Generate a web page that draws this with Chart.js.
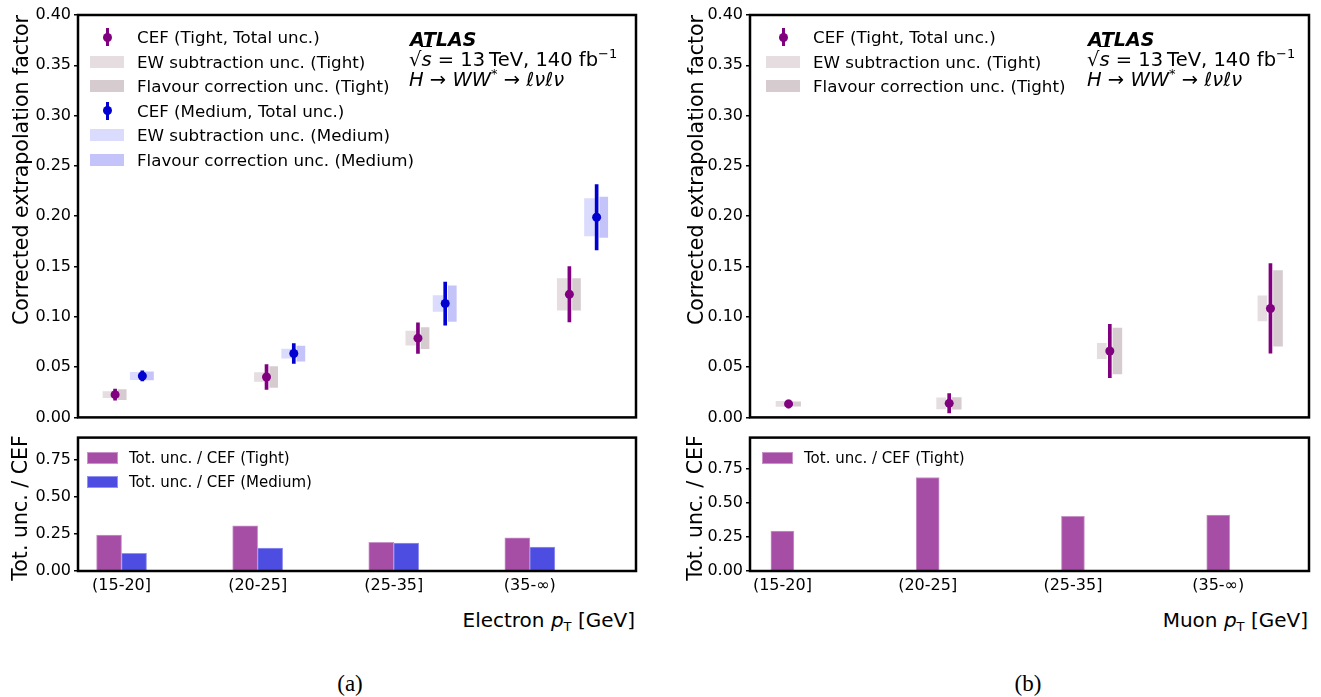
<!doctype html>
<html>
<head>
  <meta charset="utf-8">
  <title>CEF electron / muon</title>
  <script src="https://cdn.jsdelivr.net/npm/chart.js@4.4.1/dist/chart.umd.min.js"></script>
  <style>
    body { margin: 0; background: #fff; font-family: "DejaVu Sans", sans-serif; color: #000; }
    #page { position: relative; width: 1321px; height: 697px; overflow: hidden; }
    canvas { position: absolute; }
    .t { position: absolute; white-space: nowrap; line-height: 1; }
    .rot { transform: translate(-50%, -50%) rotate(-90deg); font-size: 20.5px; }
    .xt { transform: translate(-100%, -50%); font-size: 20px; }
    .cap { transform: translate(-50%, -50%); font-family: "Liberation Serif", serif; font-size: 23px; }
    .row { position: absolute; white-space: nowrap; line-height: 20px; height: 20px; }
    .big { font-size: 16.7px; }
    .small { font-size: 15px; }
    .sw { position: absolute; top: 4px; height: 12px; box-sizing: border-box; }
    .mk { position: absolute; top: 0; width: 34px; height: 20px; }
    .mk .ln { position: absolute; left: 15.5px; top: 1px; width: 3px; height: 18px; }
    .mk .dot { position: absolute; left: 12.5px; top: 5.5px; width: 9px; height: 9px; border-radius: 50%; }
    .atl { font-size: 19.5px; }
    .atl b { font-style: italic; font-family: "DejaVu Sans", sans-serif; font-size: 19px; }
    .ov { border-top: 1px solid #000; font-style: italic; padding-top: 1px; }
    sup { font-size: 13px; vertical-align: 8px; line-height: 0; }
    sub { font-size: 13px; vertical-align: -4px; line-height: 0; }
  </style>
</head>
<body>
<div id="page">
  <canvas id="elTop" width="650" height="430" style="left:0;top:0"></canvas>
  <canvas id="elBot" width="650" height="175" style="left:0;top:425px"></canvas>
  <canvas id="muTop" width="649" height="430" style="left:672px;top:0"></canvas>
  <canvas id="muBot" width="649" height="175" style="left:672px;top:425px"></canvas>

  <div class="t rot" style="left:21px;top:170px">Corrected extrapolation factor</div>
  <div class="t rot" style="left:20px;top:508px">Tot. unc. / CEF</div>
  <div class="t rot" style="left:696px;top:170px">Corrected extrapolation factor</div>
  <div class="t rot" style="left:695px;top:508px">Tot. unc. / CEF</div>

  <div class="t xt" style="left:635px;top:620px">Electron <i>p</i><sub>T</sub> [GeV]</div>
  <div class="t xt" style="left:1308px;top:620px">Muon <i>p</i><sub>T</sub> [GeV]</div>

  <div class="t cap" style="left:350px;top:683px">(a)</div>
  <div class="t cap" style="left:1028px;top:683px">(b)</div>

  <div class="t atl" style="left:410px;top:30px"><b>ATLAS</b></div>
  <div class="t atl" style="left:409px;top:50px">√<span class="ov">s</span> = 13&#8201;TeV, 140 fb<sup>−1</sup></div>
  <div class="t atl" style="left:409px;top:70px"><i>H</i> → <i>WW</i><sup>*</sup> → <i>ℓνℓν</i></div>
  <div class="t atl" style="left:1088px;top:30px"><b>ATLAS</b></div>
  <div class="t atl" style="left:1087px;top:50px">√<span class="ov">s</span> = 13&#8201;TeV, 140 fb<sup>−1</sup></div>
  <div class="t atl" style="left:1087px;top:70px"><i>H</i> → <i>WW</i><sup>*</sup> → <i>ℓνℓν</i></div>
</div>

<script>
  var bins = ['(15-20]', '(20-25]', '(25-35]', '(35-\u221e)'];

  // electrons, Tight selection
  var elTightCef  = [0.0226, 0.0402, 0.0788, 0.1223];
  var elTightTot  = [0.0055, 0.0123, 0.0153, 0.0275];
  var elTightEw   = [0.0030, 0.0044, 0.0069, 0.0157];
  var elTightFlav = [0.0050, 0.0103, 0.0106, 0.0157];
  var elTightRatio = [0.242, 0.304, 0.193, 0.224];

  // electrons, Medium selection
  var elMedCef  = [0.0412, 0.0635, 0.1132, 0.1990];
  var elMedTot  = [0.0050, 0.0099, 0.0214, 0.0325];
  var elMedEw   = [0.0036, 0.0045, 0.0078, 0.0186];
  var elMedFlav = [0.0040, 0.0075, 0.0177, 0.0200];
  var elMedRatio = [0.120, 0.154, 0.188, 0.161];

  // muons, Tight selection
  var muTightCef  = [0.0134, 0.0140, 0.0660, 0.1083];
  var muTightTot  = [0.0039, 0.0096, 0.0266, 0.0445];
  var muTightEw   = [0.0025, 0.0055, 0.0077, 0.0125];
  var muTightFlav = [0.0022, 0.0058, 0.0229, 0.0376];
  var muTightRatio = [0.293, 0.687, 0.401, 0.410];

  var purple = '#800080', blue = '#0000d0';
  var ewTight = '#e5dde0', flTight = '#d6ccd0';
  var ewMed = '#dbdbfd', flMed = '#c4c4fb';
  var barTight = '#a64ea6', barTightEdge = '#c993c9';
  var barMed = '#4d4de2', barMedEdge = '#9393ee';

  var tickFont = { family: 'DejaVu Sans', size: 16 };

  var frame = {
    id: 'frame',
    afterDraw: function (chart) {
      var a = chart.chartArea, c = chart.ctx;
      c.save();
      c.strokeStyle = '#000';
      c.lineWidth = 2.5;
      c.strokeRect(a.left, a.top, a.right - a.left, a.bottom - a.top);
      c.restore();
    }
  };

  function yAxis(max, step) {
    return {
      min: 0, max: max,
      afterFit: function (s) { s.width = 78; },
      border: { display: false },
      grid: { drawOnChartArea: false, drawTicks: true, tickLength: 4, color: '#000', lineWidth: 1.5 },
      ticks: {
        stepSize: step, includeBounds: false, color: '#000', font: tickFont, padding: 3,
        callback: function (v) { return v.toFixed(2); }
      }
    };
  }

  function xTop(min, max) {
    return { type: 'linear', min: min, max: max, offset: false, display: false, grid: { offset: false } };
  }

  function xBottom(min, max) {
    return {
      type: 'linear', min: min, max: max, offset: false,
      afterFit: function (s) { s.height = 29; },
      border: { display: false },
      grid: { display: false, drawTicks: false, offset: false },
      ticks: {
        stepSize: 1, includeBounds: false, autoSkip: false, maxRotation: 0,
        color: '#000', font: tickFont, padding: 5,
        callback: function (v) { return bins[v]; }
      }
    };
  }

  function pointSet(vals, off, col) {
    return {
      type: 'scatter',
      data: vals.map(function (v, i) { return { x: i + off, y: v }; }),
      backgroundColor: col, borderWidth: 0, pointRadius: 4.5, order: 0
    };
  }

  function rangeSet(vals, errs, off, col, w, ord) {
    return {
      type: 'bar',
      data: vals.map(function (v, i) { return { x: i + off, y: [v - errs[i], v + errs[i]] }; }),
      backgroundColor: col, barThickness: w, grouped: false, order: ord
    };
  }

  function ratioSet(vals, col, edge, w) {
    return {
      type: 'bar',
      data: vals.map(function (v, i) { return { x: i, y: v }; }),
      backgroundColor: col, borderColor: edge, borderWidth: 1, barThickness: w
    };
  }

  function makeChart(id, datasets, xs, ys, pad) {
    return new Chart(document.getElementById(id), {
      type: 'bar',
      data: { datasets: datasets },
      options: {
        responsive: false,
        animation: false,
        events: [],
        layout: { padding: pad },
        scales: { x: xs, y: ys },
        plugins: { legend: { display: false }, tooltip: { enabled: false } }
      },
      plugins: [frame]
    });
  }

  var dt = 0.09, db = 0.047;

  makeChart('elTop', [
    pointSet(elTightCef, -dt, purple),
    pointSet(elMedCef, dt, blue),
    rangeSet(elTightCef, elTightTot, -dt, purple, 3, 1),
    rangeSet(elMedCef, elMedTot, dt, blue, 3, 1),
    rangeSet(elTightCef, elTightEw, -dt - db, ewTight, 10, 2),
    rangeSet(elTightCef, elTightFlav, -dt + db, flTight, 8, 2),
    rangeSet(elMedCef, elMedEw, dt - db, ewMed, 10, 2),
    rangeSet(elMedCef, elMedFlav, dt + db, flMed, 8, 2)
  ], xTop(-0.335, 3.35), yAxis(0.4, 0.05), { top: 15, right: 14, bottom: 8, left: 0 });

  makeChart('elBot', [
    ratioSet(elTightRatio, barTight, barTightEdge, 25),
    ratioSet(elMedRatio, barMed, barMedEdge, 25)
  ], xBottom(-0.32, 3.78), yAxis(0.9, 0.25), { top: 6, right: 14, bottom: 0, left: 0 });

  makeChart('muTop', [
    pointSet(muTightCef, 0, purple),
    rangeSet(muTightCef, muTightTot, 0, purple, 3, 1),
    rangeSet(muTightCef, muTightEw, -0.05, ewTight, 9, 2),
    rangeSet(muTightCef, muTightFlav, 0.047, flTight, 9, 2)
  ], xTop(-0.24, 3.24), yAxis(0.4, 0.05), { top: 15, right: 12, bottom: 8, left: 0 });

  makeChart('muBot', [
    ratioSet(muTightRatio, barTight, barTightEdge, 23)
  ], xBottom(-0.223, 3.625), yAxis(0.98, 0.25), { top: 6, right: 12, bottom: 0, left: 0 });

  // legends
  var page = document.getElementById('page');
  function legend(x, y, dy, cls, items) {
    items.forEach(function (it, k) {
      var row = document.createElement('div');
      row.className = 'row ' + cls;
      row.style.left = x + 'px';
      row.style.top = (y + k * dy - 10) + 'px';
      var html;
      if (it.pt) {
        html = '<span class="mk"><span class="ln" style="background:' + it.pt + '"></span>' +
               '<span class="dot" style="background:' + it.pt + '"></span></span>';
      } else {
        html = '<span class="sw" style="left:0;width:' + it.w + 'px;background:' + it.c +
               (it.e ? ';border:1px solid ' + it.e : '') + '"></span>';
      }
      row.innerHTML = html + '<span style="position:absolute;left:' + it.tx + 'px;top:0">' + it.text + '</span>';
      page.appendChild(row);
    });
  }

  legend(90, 37, 24.6, 'big', [
    { pt: purple, text: 'CEF (Tight, Total unc.)', tx: 47 },
    { c: ewTight, w: 34, text: 'EW subtraction unc. (Tight)', tx: 47 },
    { c: flTight, w: 34, text: 'Flavour correction unc. (Tight)', tx: 47 },
    { pt: blue, text: 'CEF (Medium, Total unc.)', tx: 47 },
    { c: ewMed, w: 34, text: 'EW subtraction unc. (Medium)', tx: 47 },
    { c: flMed, w: 34, text: 'Flavour correction unc. (Medium)', tx: 47 }
  ]);
  legend(766, 37, 24.6, 'big', [
    { pt: purple, text: 'CEF (Tight, Total unc.)', tx: 47 },
    { c: ewTight, w: 34, text: 'EW subtraction unc. (Tight)', tx: 47 },
    { c: flTight, w: 34, text: 'Flavour correction unc. (Tight)', tx: 47 }
  ]);
  legend(87, 458, 24.4, 'small', [
    { c: barTight, e: barTightEdge, w: 31, text: 'Tot. unc. / CEF (Tight)', tx: 42 },
    { c: barMed, e: barMedEdge, w: 31, text: 'Tot. unc. / CEF (Medium)', tx: 42 }
  ]);
  legend(762, 458, 24.4, 'small', [
    { c: barTight, e: barTightEdge, w: 31, text: 'Tot. unc. / CEF (Tight)', tx: 42 }
  ]);
</script>
</body>
</html>
